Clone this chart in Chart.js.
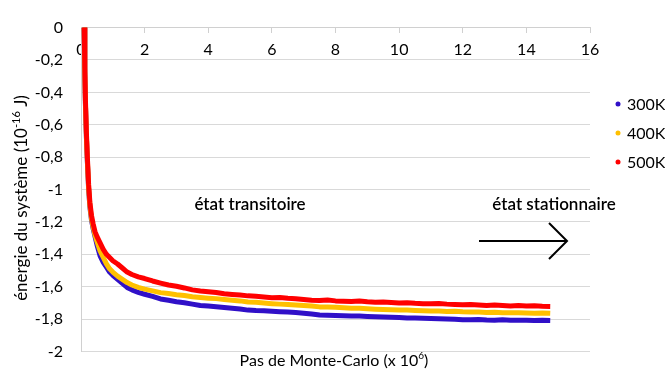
<!DOCTYPE html>
<html>
<head>
<meta charset="utf-8">
<script src="https://cdn.jsdelivr.net/npm/chart.js@4.4.1/dist/chart.umd.min.js"></script>
<style>
  html, body { margin: 0; padding: 0; background: #fff; }
  #wrap { width: 665px; height: 379px; }
</style>
</head>
<body>
<div id="wrap"><canvas id="chart" width="665" height="379"></canvas></div>
<script>
// Pas de Monte-Carlo (x 10^6)
const steps = [0.1, 0.12, 0.14, 0.17, 0.2, 0.24, 0.28, 0.33, 0.38, 0.44, 0.5, 0.6, 0.7, 0.8, 0.9, 1.0,
    1.15, 1.3, 1.45, 1.6, 1.8,
    2.0, 2.25, 2.5, 2.75, 3.0, 3.25, 3.5, 3.75, 4.0, 4.25, 4.5, 4.75, 5.0, 5.25, 5.5, 5.75,
    6.0, 6.25, 6.5, 6.75, 7.0, 7.25, 7.5, 7.75, 8.0, 8.25, 8.5, 8.75, 9.0, 9.25, 9.5, 9.75,
    10.0, 10.25, 10.5, 10.75, 11.0, 11.25, 11.5, 11.75, 12.0, 12.25, 12.5, 12.75,
    13.0, 13.25, 13.5, 13.75, 14.0, 14.25, 14.5, 14.75];

// energie (10^-16 J)
const energy300 = [0, -0.28, -0.48, -0.68, -0.83, -1.0, -1.11, -1.19, -1.24, -1.29, -1.34, -1.41, -1.45, -1.48, -1.51, -1.53,
    -1.555, -1.58, -1.605, -1.62, -1.635,
    -1.647, -1.66, -1.676, -1.684, -1.693, -1.699, -1.708, -1.716, -1.72, -1.724, -1.729, -1.733, -1.738, -1.745, -1.748, -1.749,
    -1.752, -1.755, -1.757, -1.76, -1.764, -1.769, -1.775, -1.776, -1.778, -1.78, -1.781, -1.782, -1.784, -1.786, -1.788, -1.789,
    -1.791, -1.793, -1.794, -1.796, -1.797, -1.799, -1.8, -1.802, -1.804, -1.805, -1.803, -1.806,
    -1.807, -1.805, -1.807, -1.808, -1.807, -1.809, -1.808, -1.809];

const energy400 = [0, -0.27, -0.47, -0.67, -0.82, -0.99, -1.1, -1.18, -1.23, -1.28, -1.32, -1.38, -1.42, -1.46, -1.49, -1.51,
    -1.535, -1.555, -1.575, -1.59, -1.605,
    -1.615, -1.626, -1.637, -1.643, -1.65, -1.655, -1.662, -1.667, -1.671, -1.674, -1.679, -1.684, -1.688, -1.695, -1.697, -1.701,
    -1.705, -1.708, -1.71, -1.714, -1.717, -1.72, -1.725, -1.726, -1.728, -1.731, -1.733, -1.734, -1.737, -1.739, -1.741, -1.742,
    -1.745, -1.744, -1.747, -1.749, -1.75, -1.751, -1.753, -1.752, -1.755, -1.756, -1.757, -1.759,
    -1.758, -1.761, -1.762, -1.761, -1.763, -1.764, -1.763, -1.765];

const energy500 = [0, -0.25, -0.45, -0.65, -0.8, -0.97, -1.08, -1.16, -1.21, -1.26, -1.29, -1.33, -1.37, -1.4, -1.42, -1.44,
    -1.46, -1.485, -1.51, -1.525, -1.54,
    -1.55, -1.565, -1.578, -1.59, -1.598, -1.608, -1.62, -1.627, -1.632, -1.636, -1.644, -1.648, -1.652, -1.657, -1.66, -1.664,
    -1.668, -1.667, -1.672, -1.675, -1.68, -1.684, -1.686, -1.683, -1.688, -1.69, -1.692, -1.689, -1.694, -1.696, -1.695, -1.698,
    -1.701, -1.699, -1.703, -1.705, -1.706, -1.704, -1.708, -1.71, -1.712, -1.71, -1.713, -1.716,
    -1.714, -1.717, -1.719, -1.716, -1.72, -1.718, -1.721, -1.722];

const seriesNames = ['300K', '400K', '500K'];
const seriesColors = ['#3010C8', '#FFC000', '#FF0000'];
const xTicks = { min: 0, max: 16, step: 2 };
const yTicks = { min: -2, max: 0, step: 0.2 };

const FONT = 'Lato, "Open Sans", sans-serif';

function toPoints(values) {
    return values.map((v, i) => ({ x: steps[i], y: v }));
}

function frNumber(v) {
    const r = Math.round(v * 10) / 10;
    if (r === 0) return '0';
    return String(r).replace('.', ',');
}

// text made of [string, isSuperscript] parts, centred on (0,0)
function drawRich(ctx, parts, size) {
    const big = size + 'px ' + FONT;
    const small = Math.round(size * 0.65) + 'px ' + FONT;
    let total = 0;
    parts.forEach(p => { ctx.font = p[1] ? small : big; total += ctx.measureText(p[0]).width; });
    let x = -total / 2;
    ctx.textAlign = 'left';
    parts.forEach(p => {
        ctx.font = p[1] ? small : big;
        ctx.fillText(p[0], x, p[1] ? -size * 0.35 : 0);
        x += ctx.measureText(p[0]).width;
    });
}

// titles, annotations, arrow and legend drawn over the plot
const extras = {
    id: 'extras',
    afterDraw(chart) {
        const ctx = chart.ctx;
        ctx.save();
        ctx.fillStyle = '#000';
        ctx.textBaseline = 'middle';

        // y axis title
        ctx.save();
        ctx.translate(22, 198);
        ctx.rotate(-Math.PI / 2);
        drawRich(ctx, [['énergie du système (10', false], ['-16', true], [' J)', false]], 17);
        ctx.restore();

        // x axis title
        ctx.save();
        ctx.translate(334, 361);
        drawRich(ctx, [['Pas de Monte-Carlo (x 10', false], ['6', true], [')', false]], 16);
        ctx.restore();

        ctx.textAlign = 'center';
        ctx.font = '600 17px ' + FONT;
        ctx.fillText('état transitoire', 250, 205);
        ctx.fillText('état stationnaire', 554, 205);

        // arrow
        ctx.strokeStyle = '#000';
        ctx.lineWidth = 2;
        ctx.beginPath();
        ctx.moveTo(479, 241);
        ctx.lineTo(567, 241);
        ctx.moveTo(549, 223);
        ctx.lineTo(567, 241);
        ctx.lineTo(549, 259);
        ctx.stroke();

        // legend
        ctx.font = '16px ' + FONT;
        ctx.textAlign = 'left';
        seriesNames.forEach((name, i) => {
            const y = 104 + i * 29;
            ctx.fillStyle = seriesColors[i];
            ctx.beginPath();
            ctx.arc(618, y, 2.5, 0, Math.PI * 2);
            ctx.fill();
            ctx.fillStyle = '#000';
            ctx.fillText(name, 627, y + 1);
        });
        ctx.restore();
    }
};

const ctx = document.getElementById('chart');
new Chart(ctx, {
    type: 'line',
    data: {
        datasets: [
            { label: seriesNames[0], data: toPoints(energy300), borderColor: seriesColors[0], backgroundColor: seriesColors[0], order: 2 },
            { label: seriesNames[1], data: toPoints(energy400), borderColor: seriesColors[1], backgroundColor: seriesColors[1], order: 1 },
            { label: seriesNames[2], data: toPoints(energy500), borderColor: seriesColors[2], backgroundColor: seriesColors[2], order: 0 }
        ]
    },
    options: {
        responsive: false,
        animation: false,
        devicePixelRatio: 1,
        elements: {
            line: { borderWidth: 5, tension: 0, borderJoinStyle: 'round', borderCapStyle: 'butt' },
            point: { radius: 0 }
        },
        layout: { padding: { left: 0, right: 75, top: 15, bottom: 26 } },
        scales: {
            x: {
                type: 'linear',
                position: { y: 0 },
                min: xTicks.min,
                max: xTicks.max,
                ticks: {
                    stepSize: xTicks.step,
                    color: '#000',
                    padding: 8,
                    font: { family: FONT, size: 16 }
                },
                grid: { drawOnChartArea: false, drawTicks: true, tickLength: 5, color: '#d0d0d0' },
                border: { display: true, color: '#d0d0d0' }
            },
            y: {
                min: yTicks.min,
                max: yTicks.max,
                afterFit: (s) => { s.width = 81; },
                ticks: {
                    stepSize: yTicks.step,
                    color: '#000',
                    padding: 18,
                    font: { family: FONT, size: 16 },
                    callback: (v) => frNumber(v)
                },
                grid: { color: '#d9d9d9', drawTicks: false },
                border: { display: true, color: '#d0d0d0' }
            }
        },
        plugins: {
            legend: { display: false },
            tooltip: { enabled: false },
            title: { display: false }
        }
    },
    plugins: [extras]
});
</script>
</body>
</html>
